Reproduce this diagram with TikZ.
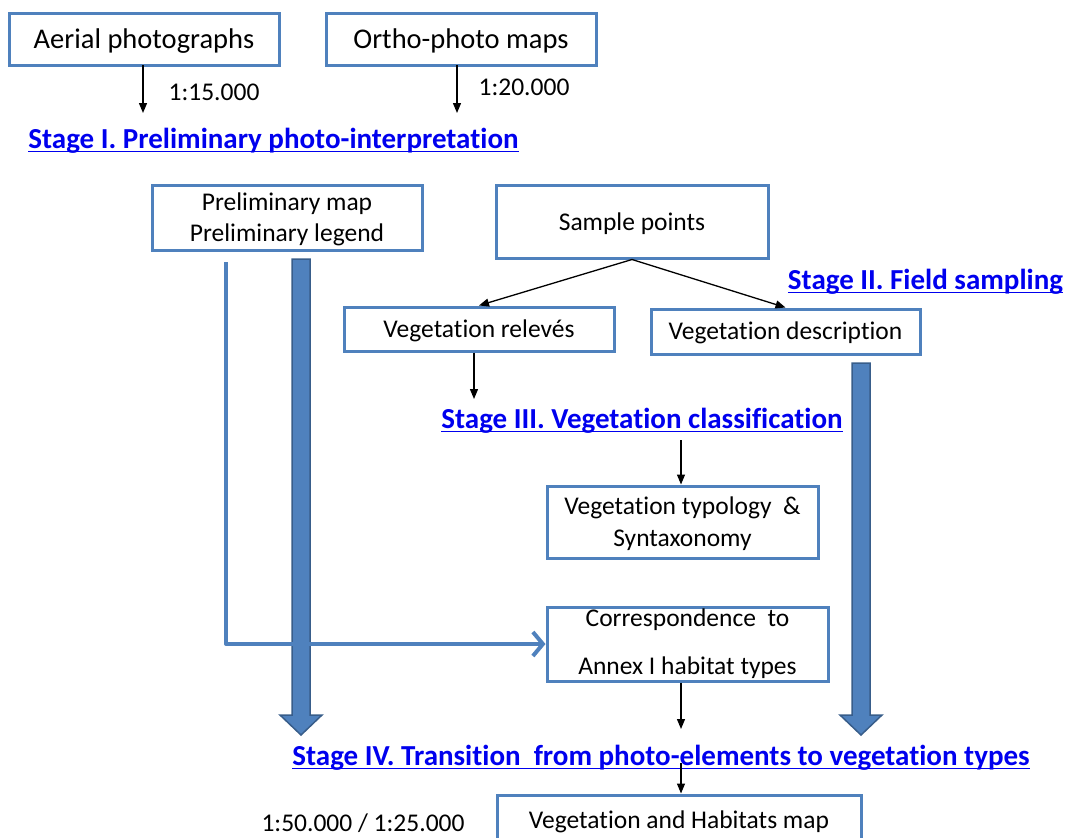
\documentclass[tikz,border=0pt]{standalone}
\usepackage{fontspec}
\setmainfont{Carlito}[Ligatures=NoCommon]
\usetikzlibrary{arrows.meta,calc}
\definecolor{boxblue}{RGB}{79,129,189}
\definecolor{boxedge}{RGB}{56,93,138}
\definecolor{stageblue}{RGB}{0,0,238}
% underline drawn just below the baseline, crossing the descenders
\newcommand\stageul[1]{\setbox0\hbox{#1}\rlap{\rule[-3.5pt]{\wd0}{1.6pt}}\box0}
\begin{document}
\begin{tikzpicture}[x=1pt,y=-1pt,
  box/.style={draw=boxblue,line width=3pt,fill=white,inner sep=0pt},
  lbl/.style={inner sep=0pt,font=\fontsize{25.5}{28}\selectfont},
  biglbl/.style={inner sep=0pt,font=\fontsize{28.5}{30}\selectfont},
  stage/.style={inner sep=0pt,text=stageblue,font=\fontsize{29}{31}\selectfont\bfseries},
  thin/.style={draw=black,line width=1.3pt,-{Triangle[length=10pt,width=8pt]}},
  fat/.style={fill=boxblue,draw=boxedge,line width=1.5pt,line join=miter}]
\useasboundingbox (0,0) rectangle (1066,838);

% source material
\node[box,minimum width=270,minimum height=52] (ap) at (144,39) {};
\node[biglbl] (apt) at (144,41) {Aerial photographs};
\node[box,minimum width=270,minimum height=52] (op) at (461,39) {};
\node[biglbl] (opt) at (461,41) {Ortho-photo maps};
\node[lbl] (sc1) at (214,92) {1:15.000};
\node[lbl] (sc2) at (524,87) {1:20.000};

% stage I
\node[stage] (s1) at (273.5,141) {\stageul{Stage I. Preliminary photo-interpretation}};
\coordinate (a1) at (143,113);
\coordinate (a2) at (457,113);
\draw[thin] (143,65) -- (a1);
\draw[thin] (457,65) -- (a2);

\node[box,minimum width=270,minimum height=65] (pm) at (287,217.5) {};
\node[lbl] (pmt1) at (287,204) {Preliminary map};
\node[lbl] (pmt2) at (287,235) {Preliminary legend};

% stage II
\node[box,minimum width=272,minimum height=73] (sp) at (632,221.5) {};
\node[lbl] (spt) at (632,224) {Sample points};
\node[stage] (s2) at (925.5,282) {\stageul{Stage II. Field sampling}};

\node[box,minimum width=270,minimum height=44] (vr) at (479,329) {};
\node[lbl] (vrt) at (479,331) {Vegetation relevés};
\node[box,minimum width=269,minimum height=45] (vd) at (785.5,331.5) {};
\node[lbl] (vdt) at (785.5,333) {Vegetation description};

\draw[thin] (sp.south) -- (vr.north);
\draw[thin] (sp.south) -- (vd.north);

% stage III
\node[stage] (s3) at (642,421) {\stageul{Stage III. Vegetation classification}};
\coordinate (a3) at (474,399);
\draw[thin] ($(vr.south)+(-5,0)$) -- (a3);

\node[box,minimum width=271,minimum height=72] (vt) at (682.5,522) {};
\node[lbl] (vtt1) at (682.5,508) {Vegetation typology \ \&};
\node[lbl] (vtt2) at (682.5,540) {Syntaxonomy};
\draw[thin] (681,440) -- (vt.north -| 681,0);

\node[box,minimum width=281,minimum height=74] (co) at (687.5,644) {};
\node[lbl] (cot1) at (687.5,620) {Correspondence \ to};
\node[lbl] (cot2) at (687.5,668) {Annex I habitat types};

% stage IV
\node[stage] (s4) at (661,758) {\stageul{Stage IV. Transition \ from photo-elements to vegetation types}};
\coordinate (a4) at (681,729);
\draw[thin] (co.south -| 681,0) -- (a4);

\node[box,minimum width=364,minimum height=60] (vh) at (679,825) {};
\node[lbl] (vht) at (679,822) {Vegetation and Habitats map};
\node[lbl] (sc3) at (363,823) {1:50.000 / 1:25.000};
\coordinate (a5) at (681,763);
\draw[thin] (a5) -- (vh.north -| 681,0);

% broad arrows carrying the photo-interpretation and the field data down to stage IV
\coordinate (lt) at (301,259);
\coordinate (ltip) at (301,735);
\coordinate (rt) at (861,363);
\coordinate (rtip) at (861,735);
\foreach \top/\tip in {lt/ltip, rt/rtip}{
  \draw[fat] ($(\top)+(-9,0)$) -- ($(\top)+(9,0)$) -- ($(\tip)+(9,-20)$) -- ($(\tip)+(21,-20)$)
    -- (\tip) -- ($(\tip)+(-21,-20)$) -- ($(\tip)+(-9,-20)$) -- cycle;
}

% preliminary map fed into the habitat correspondence
\coordinate (pl) at (226,262);
\draw[boxblue,line width=4pt,line join=round,
  -{Straight Barb[length=10pt,width=24pt,line width=4pt]}] (pl) |- (co.west);
\end{tikzpicture}
\end{document}
